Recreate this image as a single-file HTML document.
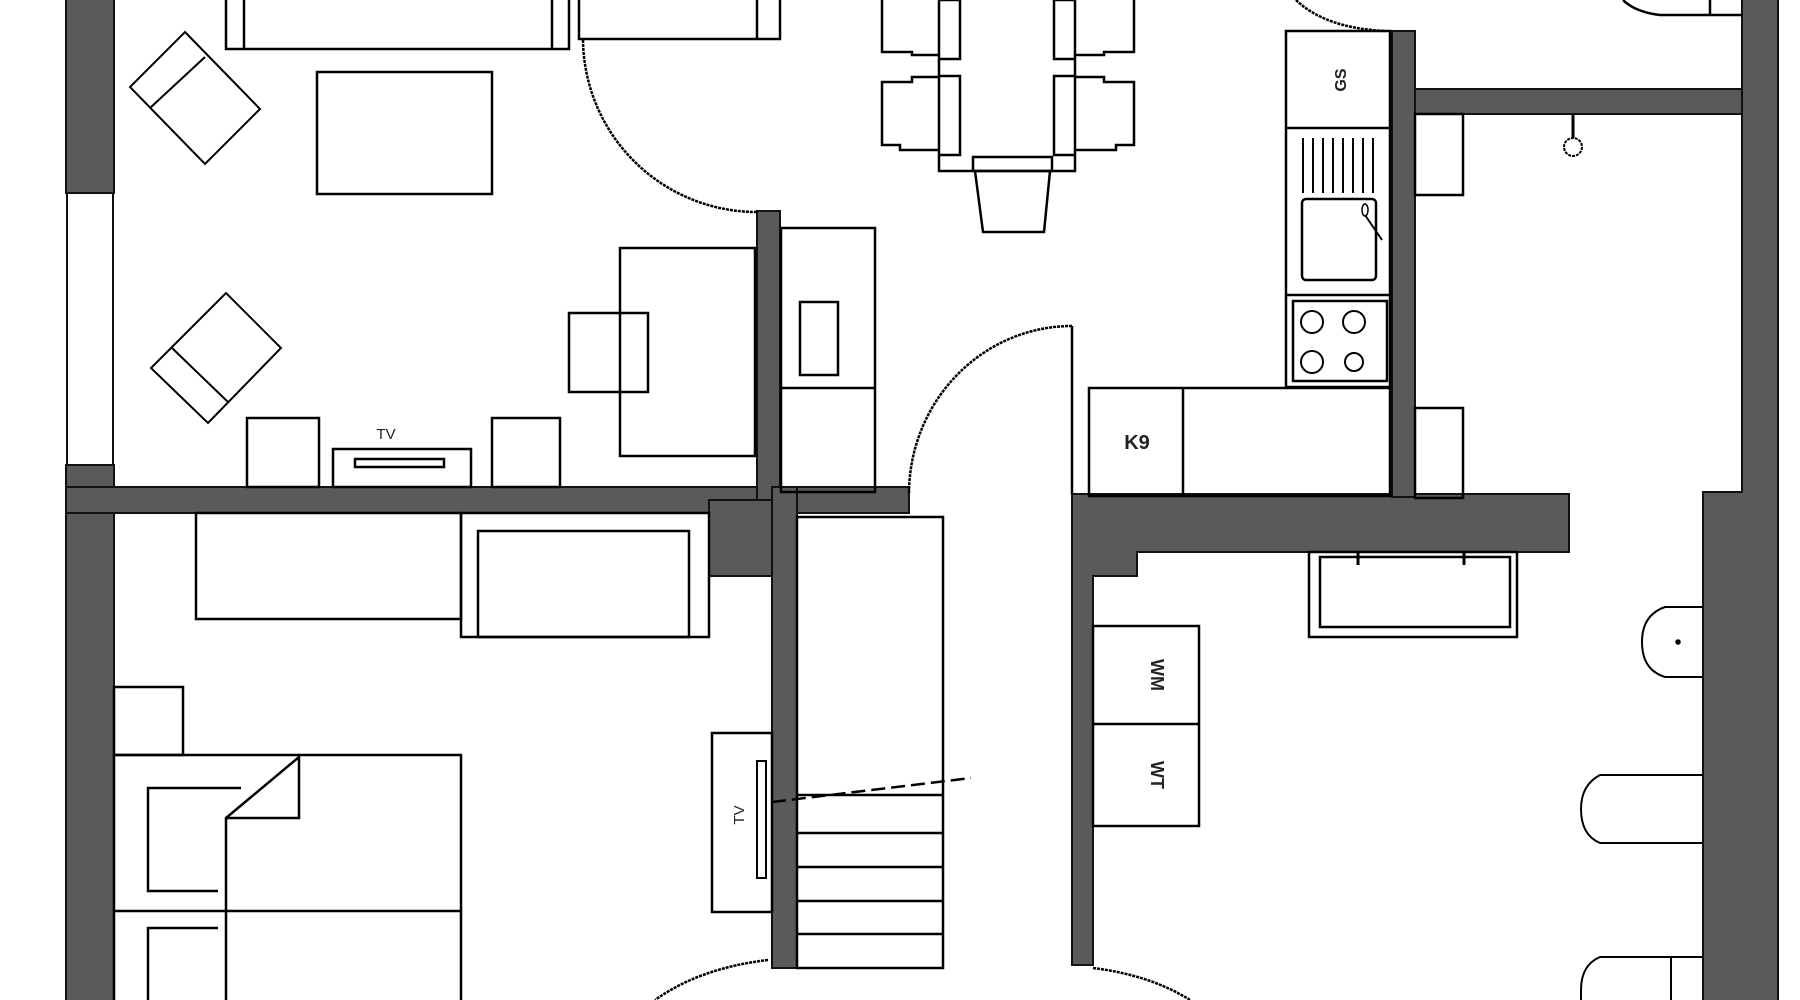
<!DOCTYPE html>
<html><head><meta charset="utf-8"><style>
html,body{margin:0;padding:0;background:#fff;}
svg{display:block;}
text{font-family:"Liberation Sans",sans-serif;fill:#222;}
</style></head><body>
<svg width="1800" height="1000" viewBox="0 0 1800 1000" xmlns="http://www.w3.org/2000/svg">
<g fill="#5a5a5a" stroke="#111" stroke-width="2">
  <rect x="66" y="-5" width="48" height="198"/>
  <rect x="66" y="465" width="48" height="540"/>
  <rect x="66" y="487" width="843" height="26"/>
  <rect x="757" y="211" width="23" height="290"/>
  <rect x="709" y="500" width="63" height="76"/>
  <rect x="772" y="487" width="25" height="481"/>
  <path d="M1072 494 H1569 V552 H1137 V576 H1093 V965 H1072 Z"/>
  <rect x="1392" y="31" width="23" height="466"/>
  <rect x="1415" y="89" width="327" height="25"/>
  <path d="M1742 -5 H1778 V1005 H1703 V492 H1742 Z"/>
</g>
<rect x="67" y="193" width="46" height="272" fill="#fff" stroke="#111" stroke-width="2"/>

<g fill="none" stroke="#000" stroke-width="2.5">
  <rect x="226" y="-5" width="343" height="54"/>
  <line x1="244" y1="0" x2="244" y2="49"/><line x1="552" y1="0" x2="552" y2="49"/>
  <rect x="579" y="-5" width="201" height="44"/>
  <line x1="757" y1="0" x2="757" y2="39"/>
  <path d="M583 40 A174 174 0 0 0 757 212" stroke-dasharray="3 1"/>
  <rect x="317" y="72" width="175" height="122"/>
  <polygon points="185,32 260,109 205,164 130,87" stroke-width="2"/>
  <line x1="205" y1="57" x2="150" y2="108" stroke-width="2"/>
  <polygon points="226,293 281,348 208,423 151,368" stroke-width="2"/>
  <line x1="172" y1="348" x2="228" y2="402" stroke-width="2"/>
  <rect x="247" y="418" width="72" height="69"/>
  <rect x="492" y="418" width="68" height="69"/>
  <rect x="333" y="449" width="138" height="38"/>
  <rect x="355" y="459" width="89" height="8"/>
  <rect x="620" y="248" width="135" height="208"/>
  <rect x="569" y="313" width="79" height="79"/>
  <rect x="781" y="228" width="94" height="264"/>
  <line x1="781" y1="388" x2="875" y2="388"/>
  <rect x="800" y="302" width="38" height="73"/>

  <rect x="939" y="-5" width="136" height="176"/>
  <path d="M882 0 V52 H912 V55 H939"/>
  <path d="M939 0 H960 V59 H939"/>
  <path d="M939 77 H912 V82 H882 V145 H900 V150 H939"/>
  <path d="M939 76 H960 V155 H939"/>
  <path d="M1134 0 V52 H1104 V55 H1075"/>
  <path d="M1075 0 H1054 V59 H1075"/>
  <path d="M1075 77 H1104 V82 H1134 V145 H1116 V150 H1075"/>
  <path d="M1075 76 H1054 V155 H1075"/>
  <rect x="973" y="157" width="79" height="14"/>
  <path d="M975 171 L983 232 H1044 L1050 171"/>

  <path d="M1296 0 Q1325 28 1385 31" stroke-dasharray="3 1"/>
  <rect x="1286" y="31" width="104" height="356"/>
  <line x1="1286" y1="128" x2="1390" y2="128"/>
  <line x1="1286" y1="295" x2="1390" y2="295"/>
  <g stroke-width="2">
    <line x1="1303" y1="138" x2="1303" y2="193"/><line x1="1313" y1="138" x2="1313" y2="193"/>
    <line x1="1323" y1="138" x2="1323" y2="193"/><line x1="1333" y1="138" x2="1333" y2="193"/>
    <line x1="1343" y1="138" x2="1343" y2="193"/><line x1="1353" y1="138" x2="1353" y2="193"/>
    <line x1="1363" y1="138" x2="1363" y2="193"/><line x1="1373" y1="138" x2="1373" y2="193"/>
  </g>
  <rect x="1302" y="199" width="74" height="81" rx="4"/>
  <line x1="1365" y1="215" x2="1382" y2="240" stroke-width="2"/>
  <ellipse cx="1365" cy="210" rx="3" ry="6" stroke-width="1.5"/>
  <rect x="1293" y="301" width="94" height="80"/>
  <circle cx="1312" cy="322" r="11" stroke-width="2"/><circle cx="1354" cy="322" r="11" stroke-width="2"/>
  <circle cx="1312" cy="362" r="11" stroke-width="2"/><circle cx="1354" cy="362" r="9" stroke-width="2"/>
  <rect x="1089" y="388" width="301" height="108"/>
  <line x1="1183" y1="388" x2="1183" y2="496"/>
  <line x1="1072" y1="326" x2="1072" y2="494"/>
  <path d="M1072 326 A163 168 0 0 0 909 494" stroke-dasharray="3 1"/>

  <path d="M1623 0 Q1635 12 1660 15 H1742" />
  <line x1="1710" y1="0" x2="1710" y2="15"/>
  <rect x="1415" y="114" width="48" height="81"/>
  <rect x="1415" y="408" width="48" height="90"/>
  <line x1="1573" y1="114" x2="1573" y2="138" stroke-width="3"/>
  <circle cx="1573" cy="147" r="9" stroke-width="2" stroke-dasharray="3 1"/>

  <rect x="196" y="513" width="265" height="106"/>
  <rect x="461" y="513" width="248" height="124"/>
  <rect x="478" y="531" width="211" height="106"/>
  <rect x="114" y="687" width="69" height="68"/>
  <rect x="114" y="755" width="347" height="260"/>
  <line x1="114" y1="911" x2="461" y2="911"/>
  <path d="M241 788 H148 V891 H218"/>
  <path d="M218 928 H148 V1005"/>
  <path d="M226 1005 V818 L299 757 V818 H226"/>
  <rect x="712" y="733" width="60" height="179"/>
  <rect x="757" y="761" width="9" height="117" stroke-width="2"/>
  <rect x="797" y="517" width="146" height="451"/>
  <line x1="797" y1="795" x2="943" y2="795"/>
  <line x1="797" y1="833" x2="943" y2="833"/>
  <line x1="797" y1="867" x2="943" y2="867"/>
  <line x1="797" y1="901" x2="943" y2="901"/>
  <line x1="797" y1="934" x2="943" y2="934"/>
  <line x1="772" y1="802" x2="971" y2="778" stroke-dasharray="14 6"/>
  <path d="M768 960 Q700 968 655 1000" stroke-dasharray="3 1"/>
  <path d="M1093 968 Q1150 975 1190 1000" stroke-dasharray="3 1"/>

  <rect x="1309" y="552" width="208" height="85"/>
  <rect x="1320" y="557" width="190" height="70"/>
  <line x1="1358" y1="552" x2="1358" y2="565" stroke-width="3"/>
  <line x1="1464" y1="552" x2="1464" y2="565" stroke-width="3"/>
  <rect x="1093" y="626" width="106" height="200"/>
  <line x1="1093" y1="724" x2="1199" y2="724"/>
  <path d="M1703 607 H1665 Q1642 615 1642 642 Q1642 670 1665 677 H1703" stroke-width="2"/>
  <circle cx="1678" cy="642" r="1.5" fill="#000"/>
  <path d="M1703 775 H1600 Q1581 785 1581 809 Q1581 835 1600 843 H1703" stroke-width="2"/>
  <path d="M1703 957 H1600 Q1581 965 1581 990 V1005" stroke-width="2"/>
  <line x1="1671" y1="957" x2="1671" y2="1005" stroke-width="2"/>
</g>
<text x="386" y="439" font-size="15" text-anchor="middle">TV</text>
<text x="1137" y="449" font-size="20" text-anchor="middle" font-weight="bold">K9</text>
<text transform="translate(1346,80) rotate(-90)" font-size="16" text-anchor="middle" font-weight="bold">GS</text>
<text transform="translate(1151,675) rotate(90)" font-size="18" text-anchor="middle" font-weight="bold">WM</text>
<text transform="translate(1151,775) rotate(90)" font-size="18" text-anchor="middle" font-weight="bold">WT</text>
<text transform="translate(744,815) rotate(-90)" font-size="15" text-anchor="middle" fill="#666">TV</text>
</svg>
</body></html>
